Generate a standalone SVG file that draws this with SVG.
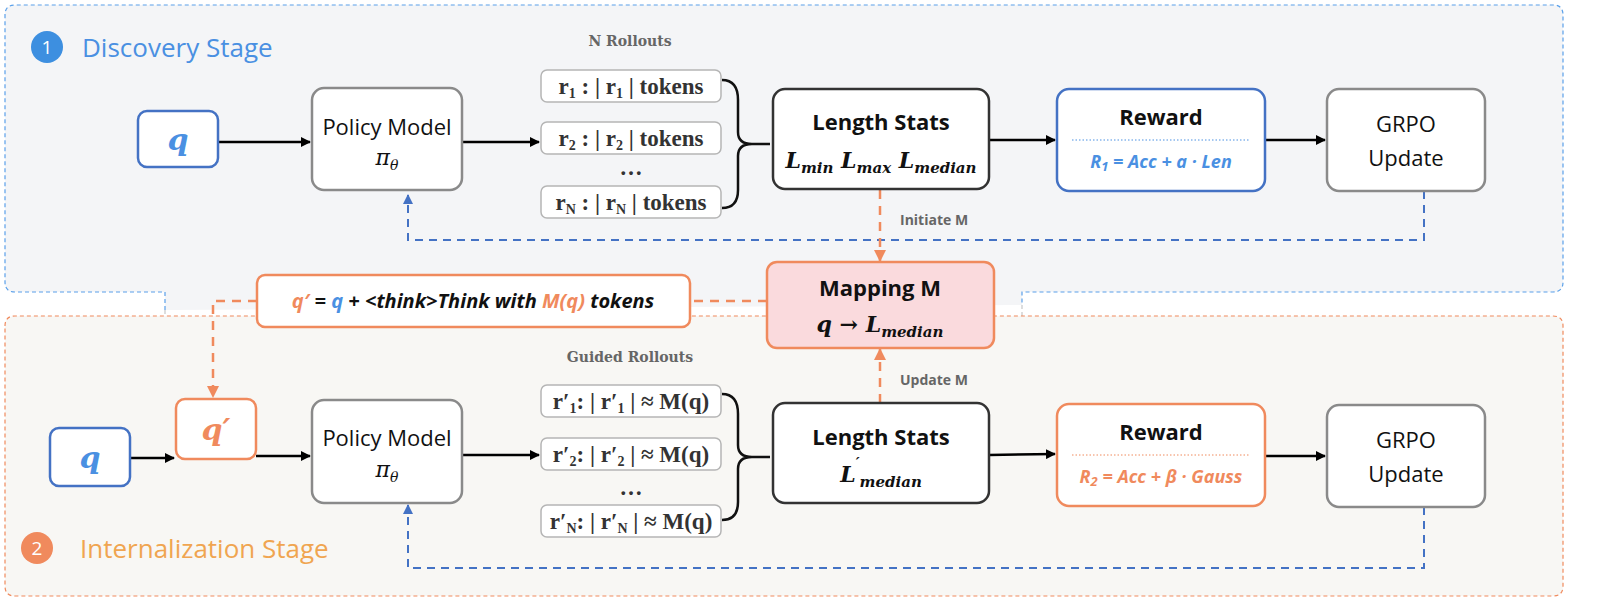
<svg xmlns="http://www.w3.org/2000/svg" width="1600" height="610" viewBox="0 0 1600 610">
<defs>
<marker id="ab" markerWidth="10" markerHeight="10" refX="9" refY="5" orient="auto" markerUnits="userSpaceOnUse"><path d="M0,0 L10,5 L0,10 z" fill="#000"/></marker>
<marker id="ao" markerWidth="12" markerHeight="12" refX="11" refY="6" orient="auto" markerUnits="userSpaceOnUse"><path d="M0,0 L12,6 L0,12 z" fill="#f08a5d"/></marker>
<marker id="au" markerWidth="10" markerHeight="10" refX="9" refY="5" orient="auto" markerUnits="userSpaceOnUse"><path d="M0,0 L10,5 L0,10 z" fill="#4472c4"/></marker>
</defs>
<style>
.sans{font-family:"Open Sans","Noto Sans","Liberation Sans",sans-serif}
.serif{font-family:"DejaVu Serif","Liberation Serif",serif}
.gray{stroke:#8a8a8a;stroke-width:2.5}
.dark{stroke:#333;stroke-width:2.5}
.blue{stroke:#4472c4;stroke-width:2.5}
.orange{stroke:#f08a5d;stroke-width:2.5}
.roll{fill:#fff;stroke:#b5b5b5;stroke-width:1.5}
.rt{font-family:"Liberation Serif",serif;font-weight:bold;font-size:23px;fill:#333;text-anchor:middle}
.t{font-size:22px;fill:#111;text-anchor:middle}
.b{font-weight:bold}
.it{font-style:italic;font-weight:bold}
.lab{font-size:14px;font-weight:bold;fill:#666}
.arr{stroke:#000;stroke-width:2.5;fill:none;marker-end:url(#ab)}
.dashb{stroke:#4472c4;stroke-width:2;stroke-dasharray:8 6;fill:none}
.dasho{stroke:#f08a5d;stroke-width:2.5;stroke-dasharray:9 7;fill:none}
</style>
<path d="M165,310 L165,292 L15,292 Q5,292 5,282 L5,15 Q5,5 15,5 L1553,5 Q1563,5 1563,15 L1563,282 Q1563,292 1553,292 L1022,292 L1022,305" fill="#f4f5f7" stroke="#5aa0ea" stroke-width="1.2" stroke-dasharray="4 3"/>
<path d="M165,310 L165,316 M1022,305 L1022,316" stroke="#bbb" stroke-width="1" stroke-dasharray="4 3"/>
<path d="M5,326 Q5,316 15,316 L1553,316 Q1563,316 1563,326 L1563,586 Q1563,596 1553,596 L15,596 Q5,596 5,586 Z" fill="#f8f7f4" stroke="#f08a5d" stroke-width="1.2" stroke-dasharray="4 3"/>
<g id="stage1"><circle cx="47" cy="47" r="16" fill="#3d8fe0"/><text x="47" y="54" class="sans" font-size="19" fill="#fff" text-anchor="middle">1</text><text x="82" y="57" class="sans" font-size="26" fill="#4a90e2">Discovery Stage</text></g>
<g id="stage2"><circle cx="37" cy="548" r="16" fill="#f08a5d"/><text x="37" y="555" class="sans" font-size="19" fill="#fff" text-anchor="middle">2</text><text x="80" y="558" class="sans" font-size="26" fill="#f0a550">Internalization Stage</text></g>

<g id="connectors">
<line x1="218" y1="142" x2="310" y2="142" class="arr"/>
<line x1="462" y1="142" x2="539" y2="142" class="arr"/>
<line x1="989" y1="140" x2="1055" y2="140" class="arr"/>
<line x1="1265" y1="140" x2="1325" y2="140" class="arr"/>
<path d="M1424,191 L1424,240 L408,240 L408,195" class="dashb" marker-end="url(#au)"/>
<path d="M880,190 L880,261" class="dasho" marker-end="url(#ao)"/>
<path d="M767,301 L690,301" class="dasho"/>
<path d="M257,301 L213,301 L213,397" class="dasho" marker-end="url(#ao)"/>
<line x1="130" y1="458" x2="174" y2="458" class="arr"/>
<line x1="256" y1="456" x2="310" y2="456" class="arr"/>
<line x1="462" y1="455" x2="539" y2="455" class="arr"/>
<line x1="989" y1="455" x2="1055" y2="454" class="arr"/>
<line x1="1265" y1="456" x2="1325" y2="456" class="arr"/>
<path d="M880,403 L880,349" class="dasho" marker-end="url(#ao)"/>
<path d="M1424,507 L1424,568 L408,568 L408,505" class="dashb" marker-end="url(#au)"/>
<path d="M722,80 Q738,80 738,100 L738,132 Q738,144 752,144 L770,144 M752,144 Q738,144 738,156 L738,190 Q738,208 722,208" stroke="#111" stroke-width="2.5" fill="none"/>
<path d="M722,394 Q738,394 738,414 L738,445 Q738,457 752,457 L770,457 M752,457 Q738,457 738,469 L738,502 Q738,520 722,520" stroke="#111" stroke-width="2.5" fill="none"/>
<text x="900" y="225" class="sans lab">Initiate M</text>
<text x="900" y="385" class="sans lab">Update M</text>
</g>

<g id="q1"><rect x="138" y="111" width="80" height="56" rx="9" fill="#fff" class="blue"/><text x="178" y="150" class="serif it" font-size="30" fill="#4a90e2" text-anchor="middle">q</text></g>
<g id="policy1"><rect x="312" y="88" width="150" height="102" rx="12" fill="#fff" class="gray"/><text x="387" y="135" class="sans t">Policy Model</text><text x="387" y="165" class="serif t" font-style="italic">π<tspan font-size="14" dy="5">θ</tspan></text></g>
<g id="rollouts1">
<text x="630" y="46" class="serif lab" text-anchor="middle">N Rollouts</text>
<rect x="541" y="70" width="180" height="32" rx="6" class="roll"/><text x="631" y="94" class="rt">r<tspan font-size="14" dy="4">1</tspan><tspan dy="-4"> : | r</tspan><tspan font-size="14" dy="4">1</tspan><tspan dy="-4"> | tokens</tspan></text>
<rect x="541" y="122" width="180" height="32" rx="6" class="roll"/><text x="631" y="146" class="rt">r<tspan font-size="14" dy="4">2</tspan><tspan dy="-4"> : | r</tspan><tspan font-size="14" dy="4">2</tspan><tspan dy="-4"> | tokens</tspan></text>
<text x="631" y="175" class="rt">…</text>
<rect x="541" y="186" width="180" height="32" rx="6" class="roll"/><text x="631" y="210" class="rt">r<tspan font-size="14" dy="4">N</tspan><tspan dy="-4"> : | r</tspan><tspan font-size="14" dy="4">N</tspan><tspan dy="-4"> | tokens</tspan></text>
</g>
<g id="stats1"><rect x="773" y="89" width="216" height="100" rx="12" fill="#fff" class="dark"/><text x="881" y="130" class="sans t b" font-size="24">Length Stats</text><text x="881" y="168" class="serif t it" font-size="24">L<tspan font-size="15" dy="5">min</tspan><tspan dy="-5"> L</tspan><tspan font-size="15" dy="5">max</tspan><tspan dy="-5"> L</tspan><tspan font-size="15" dy="5">median</tspan></text></g>
<g id="reward1"><rect x="1057" y="89" width="208" height="102" rx="12" fill="#fff" class="blue"/><text x="1161" y="125" class="sans t b" font-size="24" fill="#4a90e2">Reward</text><line x1="1072" y1="140" x2="1250" y2="140" stroke="#4a90e2" stroke-width="1" stroke-dasharray="1.5 2"/><text x="1161" y="168" class="sans it" font-size="18" fill="#4a90e2" text-anchor="middle">R<tspan font-size="13" dy="3">1</tspan><tspan dy="-3"> = Acc + a · Len</tspan></text></g>
<g id="grpo1"><rect x="1327" y="89" width="158" height="102" rx="12" fill="#fff" class="gray"/><text x="1406" y="132" class="sans t">GRPO</text><text x="1406" y="166" class="sans t">Update</text></g>

<g id="mapping"><rect x="767" y="262" width="227" height="86" rx="10" fill="#fadadd" class="orange"/><text x="880" y="296" class="sans t b" font-size="24">Mapping M</text><text x="880" y="332" class="serif t it" font-size="24">q  →  L<tspan font-size="15" dy="5">median</tspan></text></g>
<g id="qprime_def"><rect x="257" y="275" width="433" height="52" rx="8" fill="#fff" class="orange"/><text x="473" y="308" class="sans it" font-size="20" fill="#111" text-anchor="middle"><tspan fill="#f08a5d">q′</tspan> = <tspan fill="#4a90e2">q</tspan> + &lt;think&gt;Think with <tspan fill="#f08a5d">M(q)</tspan> tokens</text></g>

<g id="q2"><rect x="50" y="428" width="80" height="58" rx="9" fill="#fff" class="blue"/><text x="90" y="468" class="serif it" font-size="30" fill="#4a90e2" text-anchor="middle">q</text></g>
<g id="qprime"><rect x="176" y="399" width="80" height="60" rx="9" fill="#fff" class="orange"/><text x="216" y="440" class="serif it" font-size="30" fill="#f08a5d" text-anchor="middle">q′</text></g>
<g id="policy2"><rect x="312" y="400" width="150" height="103" rx="12" fill="#fff" class="gray"/><text x="387" y="446" class="sans t">Policy Model</text><text x="387" y="477" class="serif t" font-style="italic">π<tspan font-size="14" dy="5">θ</tspan></text></g>
<g id="rollouts2">
<text x="630" y="362" class="serif lab" text-anchor="middle">Guided Rollouts</text>
<rect x="541" y="385" width="180" height="32" rx="6" class="roll"/><text x="631" y="409" class="rt">r′<tspan font-size="14" dy="4">1</tspan><tspan dy="-4">: | r′</tspan><tspan font-size="14" dy="4">1</tspan><tspan dy="-4"> | ≈ M(q)</tspan></text>
<rect x="541" y="438" width="180" height="32" rx="6" class="roll"/><text x="631" y="462" class="rt">r′<tspan font-size="14" dy="4">2</tspan><tspan dy="-4">: | r′</tspan><tspan font-size="14" dy="4">2</tspan><tspan dy="-4"> | ≈ M(q)</tspan></text>
<text x="631" y="495" class="rt">…</text>
<rect x="541" y="505" width="180" height="32" rx="6" class="roll"/><text x="631" y="529" class="rt">r′<tspan font-size="14" dy="4">N</tspan><tspan dy="-4">: | r′</tspan><tspan font-size="14" dy="4">N</tspan><tspan dy="-4"> | ≈ M(q)</tspan></text>
</g>
<g id="stats2"><rect x="773" y="403" width="216" height="100" rx="12" fill="#fff" class="dark"/><text x="881" y="445" class="sans t b" font-size="24">Length Stats</text><text x="881" y="482" class="serif t it" font-size="24">L<tspan font-size="15" dy="-14">′</tspan><tspan font-size="15" dy="19">median</tspan></text></g>
<g id="reward2"><rect x="1057" y="404" width="208" height="102" rx="12" fill="#fff" class="orange"/><text x="1161" y="440" class="sans t b" font-size="24" fill="#f08a5d">Reward</text><line x1="1072" y1="455" x2="1250" y2="455" stroke="#f08a5d" stroke-width="1" stroke-dasharray="1.5 2"/><text x="1161" y="483" class="sans it" font-size="18" fill="#f08a5d" text-anchor="middle">R<tspan font-size="13" dy="3">2</tspan><tspan dy="-3"> = Acc + β · Gauss</tspan></text></g>
<g id="grpo2"><rect x="1327" y="405" width="158" height="102" rx="12" fill="#fff" class="gray"/><text x="1406" y="448" class="sans t">GRPO</text><text x="1406" y="482" class="sans t">Update</text></g>
</svg>
